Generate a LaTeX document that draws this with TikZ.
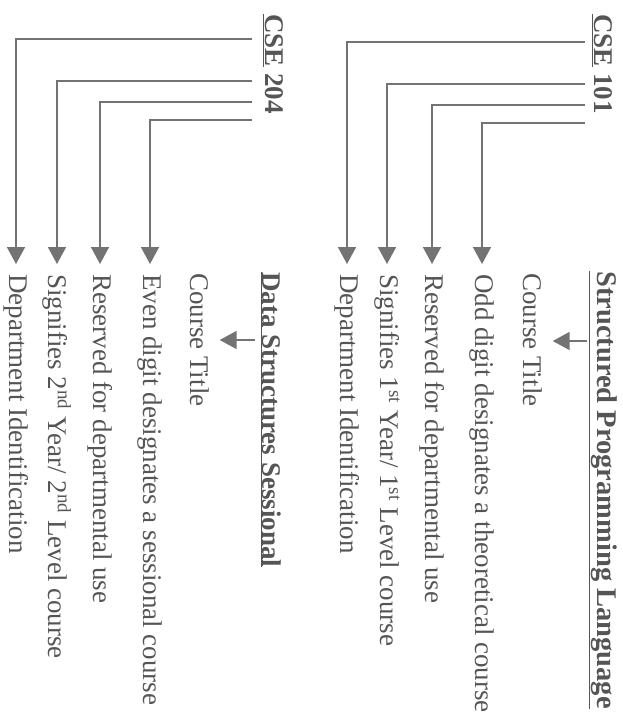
\documentclass[tikz,border=0pt]{standalone}
\usepackage{fontspec}
\setmainfont{Liberation Serif}
\usetikzlibrary{arrows.meta}
\definecolor{txt}{RGB}{85,85,85}
\definecolor{ln}{RGB}{115,115,115}
\tikzset{
  lbl/.style={rotate=-90, anchor=west, inner sep=0pt, text=txt, font=\fontsize{27}{31}\selectfont},
  code/.style={lbl, font=\fontsize{27}{31}\selectfont\bfseries},
  ttl/.style={lbl, font=\fontsize{27}{31}\selectfont\bfseries},
  arr/.style={draw=ln, line width=1.8pt, -{Triangle[width=18pt,length=17pt]}},
}
\begin{document}
\begin{tikzpicture}[x=1pt,y=1pt]
\fill[white] (0,0) rectangle (622,-721);
\useasboundingbox (0,0) rectangle (622,-721);
% ---------- right group: CSE 101 ----------
\node[code] (c101) at (602,-14) {\underline{CSE}\ 101};
\node[ttl, font=\fontsize{28.5}{32}\selectfont\bfseries] (t1) at (603,-271) {\underline{Structured Programming Language}};
\node[lbl] (ct1) at (533,-273) {Course Title};
\node[lbl] (odd) at (482,-274) {Odd digit designates a theoretical course};
\node[lbl] (res1) at (432,-274) {Reserved for departmental use};
\node[lbl] (sig1) at (387,-274) {Signifies 1\textsuperscript{st} Year/ 1\textsuperscript{st} Level course};
\node[lbl] (dep1) at (347,-274) {Department Identification};
\coordinate (r1) at (585,-42);
\coordinate (r2) at (585,-84);
\coordinate (r3) at (585,-105);
\coordinate (r4) at (585,-123);
\coordinate (ra) at (0,-341);
\draw[arr] (r1) -| ([yshift=10pt]dep1.west);
\draw[arr] (r2) -| ([yshift=10pt]sig1.west);
\draw[arr] (r3) -| ([yshift=10pt]res1.west);
\draw[arr] (r4) -| ([yshift=10pt]odd.west);
\draw[arr] (587,-341 |- ra) -- ([xshift=10pt]ct1.north |- ra);
% ---------- left group: CSE 204 ----------
\node[code] (c204) at (273,-14) {\underline{CSE}\ 204};
\node[ttl] (t2) at (271,-272) {\underline{Data Structures Sessional}};
\node[lbl] (ct2) at (200,-273) {Course Title};
\node[lbl] (even) at (150,-274) {Even digit designates a sessional course};
\node[lbl] (res2) at (100,-274) {Reserved for departmental use};
\node[lbl] (sig2) at (57,-274) {Signifies 2\textsuperscript{nd} Year/ 2\textsuperscript{nd} Level course};
\node[lbl] (dep2) at (16,-274) {Department Identification};
\coordinate (l1) at (252,-39);
\coordinate (l2) at (252,-81);
\coordinate (l3) at (252,-102);
\coordinate (l4) at (252,-120);
\coordinate (la) at (0,-340);
\draw[arr] (l1) -| ([yshift=10pt]dep2.west);
\draw[arr] (l2) -| ([yshift=10pt]sig2.west);
\draw[arr] (l3) -| ([yshift=10pt]res2.west);
\draw[arr] (l4) -| ([yshift=10pt]even.west);
\draw[arr] (255,-340 |- la) -- ([xshift=10pt]ct2.north |- la);
\end{tikzpicture}
\end{document}
